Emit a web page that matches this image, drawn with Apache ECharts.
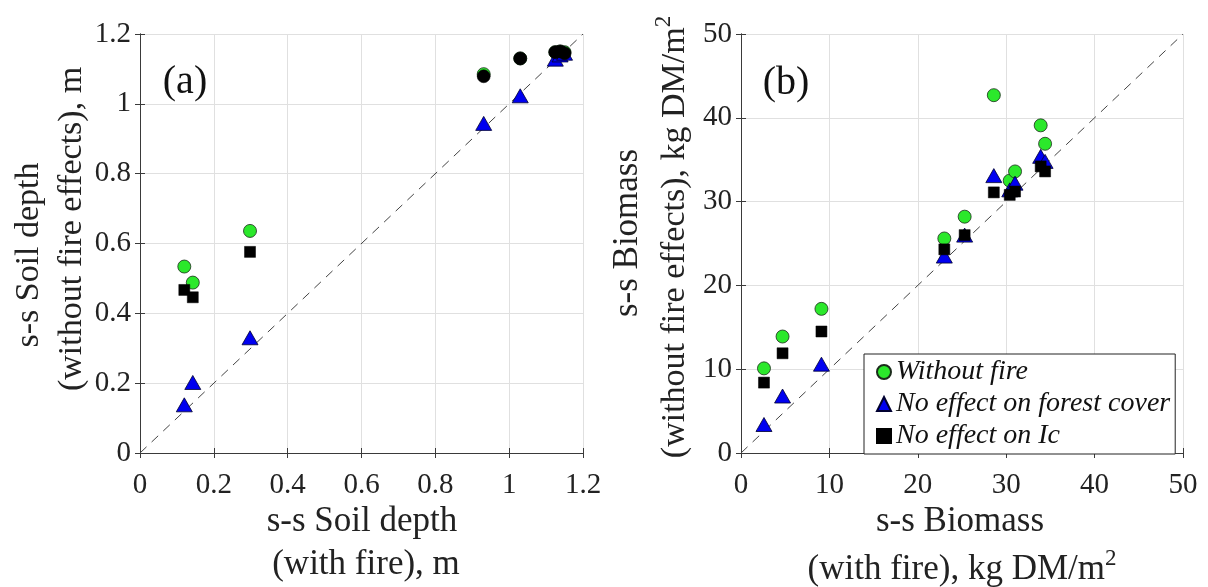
<!DOCTYPE html>
<html>
<head>
<meta charset="utf-8">
<script src="https://cdn.jsdelivr.net/npm/echarts@6/dist/echarts.min.js"></script>
<style>html,body{margin:0;padding:0;background:#fff}#c{width:1208px;height:587px}</style>
</head>
<body>
<div id="c"></div>
<script>
// ---- Data ----
const seriesNames = ['Without fire', 'No effect on forest cover', 'No effect on Ic'];

// Panel (a): steady-state soil depth (m)
const aRange = [0, 1.2];
const aTickStep = 0.2;
const aWithFire      = [0.120, 0.143, 0.298, 0.931, 1.030, 1.125, 1.138, 1.150];
const aWithoutFire   = [0.534, 0.488, 0.636, 1.085, 1.130, 1.148, 1.150, 1.148];
const aNoForestEff   = [0.138, 0.202, 0.330, 0.944, 1.023, 1.128, 1.140, 1.145];
const aNoIcEff       = [0.467, 0.446, 0.576, 1.079, 1.130, 1.148, 1.150, 1.145];

// Panel (b): steady-state biomass (kg DM/m2)
const bRange = [0, 50];
const bTickStep = 10;
const bWithFire      = [2.6, 4.7, 9.1, 23.0, 25.3, 28.6, 30.4, 31.0, 33.9, 34.4];
const bWithoutFire   = [10.1, 13.9, 17.2, 25.6, 28.2, 42.7, 32.5, 33.6, 39.1, 36.9];
const bNoForestEff   = [3.4, 6.8, 10.6, 23.5, 26.0, 33.1, 31.4, 32.2, 35.4, 34.8];
const bNoIcEff       = [8.4, 11.9, 14.5, 24.3, 26.0, 31.1, 30.8, 31.2, 34.2, 33.6];

// ---- Build ----
const SERIF = '"Liberation Serif", "DejaVu Serif", serif';
const pair = (xs, ys) => xs.map((x, i) => [x, ys[i]]);

const green = '#2be82b', blue = '#0000f0', black = '#000000';
const edge = '#1b2b1b';

function axesFor(gridIndex, range, step) {
  const common = {
    type: 'value', gridIndex, min: range[0], max: range[1], interval: step,
    axisLine: { show: true, lineStyle: { color: '#3a3a3a', width: 1 } },
    axisTick: { show: true, inside: true, length: 5, lineStyle: { color: '#3a3a3a' } },
    splitLine: { show: false },
    axisLabel: { show: false }
  };
  const x = [
    Object.assign({}, common, { position: 'bottom',
      splitLine: { show: true, lineStyle: { color: '#e0e0e0', width: 1 } },
      axisLabel: { show: true, margin: 18, color: '#222', fontFamily: SERIF, fontSize: 29 } }),
    Object.assign({}, common, { position: 'top' })
  ];
  const y = [
    Object.assign({}, common, { position: 'left',
      splitLine: { show: true, lineStyle: { color: '#e0e0e0', width: 1 } },
      axisLabel: { show: true, margin: 9, color: '#222', fontFamily: SERIF, fontSize: 29 } }),
    Object.assign({}, common, { position: 'right' })
  ];
  return { x, y };
}

const axA = axesFor(0, aRange, aTickStep);
const axB = axesFor(1, bRange, bTickStep);

function diag(xi, yi, range) {
  return {
    type: 'line', xAxisIndex: xi, yAxisIndex: yi, silent: true, symbol: 'none', z: 1,
    data: [[range[0], range[0]], [range[1], range[1]]],
    lineStyle: { color: '#444', width: 1, type: [9, 7] }
  };
}

function scatterSet(xi, yi, xs, ys1, ys2, ys3, icSymbol, icSize) {
  return [
    { name: seriesNames[0], type: 'scatter', xAxisIndex: xi, yAxisIndex: yi, z: 3,
      symbol: 'circle', symbolSize: 13, data: pair(xs, ys1),
      itemStyle: { color: green, borderColor: edge, borderWidth: 0.8, opacity: 1 } },
    { name: seriesNames[1], type: 'scatter', xAxisIndex: xi, yAxisIndex: yi, z: 4,
      symbol: 'triangle', symbolSize: [16, 14], data: pair(xs, ys2),
      itemStyle: { color: blue, borderColor: '#000030', borderWidth: 0.8, opacity: 1 } },
    { name: seriesNames[2], type: 'scatter', xAxisIndex: xi, yAxisIndex: yi, z: 5,
      symbol: icSymbol || 'rect', symbolSize: icSize || 11, data: pair(xs, ys3),
      itemStyle: { color: black, borderColor: black, borderWidth: 0.5, opacity: 1 } }
  ];
}

const option = {
  animation: false,
  backgroundColor: '#fff',
  textStyle: { fontFamily: SERIF },
  grid: [
    { left: 140, top: 34, width: 443, height: 419, show: false },
    { left: 741, top: 34, width: 442, height: 419, show: false }
  ],
  xAxis: [axA.x[0], axA.x[1], axB.x[0], axB.x[1]],
  yAxis: [axA.y[0], axA.y[1], axB.y[0], axB.y[1]],
  legend: {
    data: [
      { name: seriesNames[0], icon: 'circle' },
      { name: seriesNames[1], icon: 'triangle' },
      { name: seriesNames[2], icon: 'rect', itemStyle: { color: black } }
    ],
    orient: 'vertical', left: 864, top: 354,
    itemWidth: 14, itemHeight: 14, itemGap: 4,
    padding: [4, 5, 4, 12],
    backgroundColor: '#fff', borderColor: '#222', borderWidth: 1, borderRadius: 0,
    textStyle: { fontFamily: SERIF, fontStyle: 'italic', fontSize: 28, color: '#111' },
    selectedMode: false
  },
  series: [].concat(
    [diag(0, 0, aRange)],
    scatterSet(0, 0, aWithFire, aWithoutFire, aNoForestEff, aNoIcEff,
      (v) => (v[0] > 0.9 ? 'circle' : 'rect'),
      (v) => (v[0] > 0.9 ? 13 : 11)),
    [diag(2, 2, bRange)],
    scatterSet(2, 2, bWithFire, bWithoutFire, bNoForestEff, bNoIcEff)
  ),
  graphic: [
    { type: 'text', x: 185, y: 82, style: { text: '(a)', font: '40px ' + SERIF, fill: '#111', align: 'center', verticalAlign: 'middle' } },
    { type: 'text', x: 786, y: 83, style: { text: '(b)', font: '40px ' + SERIF, fill: '#111', align: 'center', verticalAlign: 'middle' } },
    // panel (a) axis titles
    { type: 'text', x: 362, y: 522, style: { text: 's-s Soil depth', font: '35px ' + SERIF, fill: '#222', align: 'center', verticalAlign: 'middle' } },
    { type: 'text', x: 366, y: 565, style: { text: '(with fire), m', font: '35px ' + SERIF, fill: '#222', align: 'center', verticalAlign: 'middle' } },
    { type: 'text', x: 29, y: 255, rotation: Math.PI / 2, style: { text: 's-s Soil depth', font: '34px ' + SERIF, fill: '#222', align: 'center', verticalAlign: 'middle' } },
    { type: 'text', x: 72, y: 229, rotation: Math.PI / 2, style: { text: '(without fire effects), m', font: '34px ' + SERIF, fill: '#222', align: 'center', verticalAlign: 'middle' } },
    // panel (b) axis titles
    { type: 'text', x: 960, y: 522, style: { text: 's-s Biomass', font: '35px ' + SERIF, fill: '#222', align: 'center', verticalAlign: 'middle' } },
    { type: 'text', x: 962, y: 567, style: {
        text: '{m|(with fire), kg DM/m}{s|2}', fill: '#222', align: 'center', verticalAlign: 'middle',
        rich: { m: { fontFamily: SERIF, fontSize: 35, lineHeight: 40, verticalAlign: 'bottom' },
                s: { fontFamily: SERIF, fontSize: 23, lineHeight: 40, verticalAlign: 'top' } } } },
    { type: 'text', x: 628, y: 233, rotation: Math.PI / 2, style: { text: 's-s Biomass', font: '35px ' + SERIF, fill: '#222', align: 'center', verticalAlign: 'middle' } },
    { type: 'text', x: 672, y: 237, rotation: Math.PI / 2, style: {
        text: '{m|(without fire effects), kg DM/m}{s|2}', fill: '#222', align: 'center', verticalAlign: 'middle',
        rich: { m: { fontFamily: SERIF, fontSize: 34, lineHeight: 40, verticalAlign: 'bottom' },
                s: { fontFamily: SERIF, fontSize: 23, lineHeight: 40, verticalAlign: 'top' } } } }
  ]
};

const chart = echarts.init(document.getElementById('c'), null, { renderer: 'canvas' });
chart.setOption(option);
</script>
</body>
</html>
